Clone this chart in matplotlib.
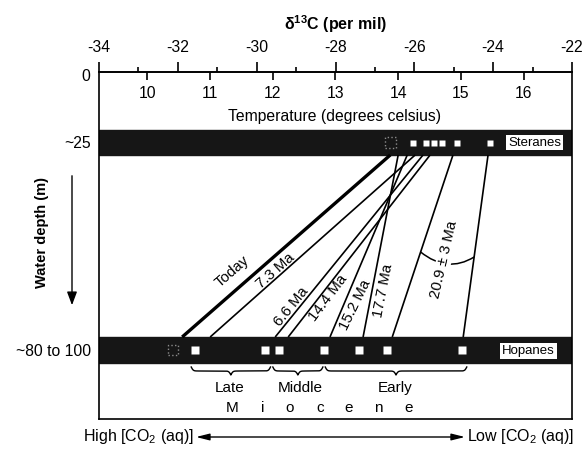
import matplotlib.pyplot as plt
import numpy as np
from matplotlib.path import Path
import matplotlib.patches as mpatches

plt.rcParams['font.family'] = ['Liberation Sans', 'DejaVu Sans']
plt.rcParams['mathtext.fontset'] = 'custom'
plt.rcParams['mathtext.rm'] = 'Liberation Sans'
plt.rcParams['mathtext.bf'] = 'Liberation Sans:bold'
plt.rcParams['axes.unicode_minus'] = False

#============= data (delta 13C, per mil) ==========================#
ages = ['Today', '7.3 Ma', '6.6 Ma', '14.4 Ma', '15.2 Ma', '17.7 Ma', '20.9a', '20.9b']
sterane_end = [-26.61, -25.98, -25.78, -25.60, -26.18, -26.41, -25.02, -24.13]
hopane_end = [-31.89, -31.18, -29.53, -29.20, -28.14, -27.30, -26.56, -24.76]
sterane_pts = [-26.03, -25.70, -25.50, -25.29, -24.91, -24.08]
hopane_pts = [-31.56, -29.79, -29.43, -28.29, -27.40, -26.69, -24.79]
today_pts = [-26.61, -32.12]          # sterane, hopane (dashed squares)
depth_labels = ['0', '~25', '~80 to 100']
temp_ticks = [10, 11, 12, 13, 14, 15, 16]
miocene_parts = ['Late', 'Middle', 'Early']
miocene_edges = [-31.69, -29.62, -28.29, -24.64]

#============= layout =============================================#
ster_band = (58.3, 83.3)
hop_band = (265.3, 291.3)
ster_y = 70.8
hop_y = 278.3


def px(x, y):
    # image pixel -> data coords (layout helper for annotations)
    return (x - 99) / 39.42 - 34, y - 71.7


def d2t(d):
    return 13 + (np.asarray(d) + 28) / 1.5906


def t2d(t):
    return -28 + (np.asarray(t) - 13) * 1.5906


fig = plt.figure(figsize=(5.84, 4.51), dpi=100)
ax = fig.add_axes([99 / 584, 1 - 419 / 451, 473 / 584, 347.3 / 451])
ax.set_xlim(-34, -22)
ax.set_ylim(347.3, 0)

# bands
for b in (ster_band, hop_band):
    ax.axhspan(b[0], b[1], color='#161616', zorder=1)

# lines
for i, a in enumerate(ages):
    lw = 2.4 if a == 'Today' else 1.2
    ax.plot([sterane_end[i], hopane_end[i]], [ster_band[1], hop_band[0]],
            color='k', lw=lw, solid_capstyle='butt', zorder=2)

# squares
ax.plot(sterane_pts, [ster_y] * len(sterane_pts), 's', ms=5.0, mfc='white', mec='none', zorder=3)
ax.plot(hopane_pts, [hop_y] * len(hopane_pts), 's', ms=5.3, mfc='white', mec='none', zorder=3)
ax.scatter(today_pts, [ster_y, hop_y], marker='s', s=60, facecolors='none',
           edgecolors='0.55', linestyles=':', linewidths=1, zorder=3)

# band labels
ax.text(*px(534.5, 142.5), 'Steranes', ha='center', va='center', size=9.5, zorder=4,
        bbox=dict(boxstyle='square,pad=0.15', fc='white', ec='none'))
ax.text(*px(528.5, 351), 'Hopanes', ha='center', va='center', size=9.5, zorder=4,
        bbox=dict(boxstyle='square,pad=0.15', fc='white', ec='none'))

# line labels
labels = [('Today', 232, 272, 41), ('7.3 Ma', 275, 271, 41.5), ('6.6 Ma', 291, 307, 51),
          ('14.4 Ma', 328, 298, 53), ('15.2 Ma', 355, 305, 64), ('17.7 Ma', 383, 291, 79),
          ('20.9 ± 3 Ma', 444, 260, 77)]
for t, x, y, r in labels:
    bb = dict(boxstyle='square,pad=0.05', fc='white', ec='none') if t.startswith('20.9') else None
    ax.text(*px(x, y), t, rotation=r, rotation_mode='anchor', ha='center', va='center',
            size=10.8, zorder=5, bbox=bb)

# arc between the two 20.9 Ma lines
ya, yb = 252 - 71.7, 257 - 71.7
fa = (ya - ster_band[1]) / (hop_band[0] - ster_band[1])
fb = (yb - ster_band[1]) / (hop_band[0] - ster_band[1])
p0 = (sterane_end[6] + fa * (hopane_end[6] - sterane_end[6]), ya)
p2 = (sterane_end[7] + fb * (hopane_end[7] - sterane_end[7]), yb)
p1 = ((p0[0] + p2[0]) / 2, (ya + yb) / 2 + 19)
arc = mpatches.PathPatch(Path([p0, p1, p2], [Path.MOVETO, Path.CURVE3, Path.CURVE3]),
                         fc='none', ec='k', lw=1.1, zorder=4)
ax.add_patch(arc)

# braces under the hopane band
def brace(x0, x1, y0, h):
    xs = np.linspace(x0, x1, 301)
    half = xs[:151]
    beta = 40.0
    yh = 1 / (1 + np.exp(-beta * (half - half[0]))) + 1 / (1 + np.exp(-beta * (half - half[-1])))
    yy = np.concatenate((yh, yh[-2::-1]))
    ax.plot(xs, y0 + (yy - 0.5) * h, color='k', lw=1.0, zorder=3)


for j in range(3):
    brace(miocene_edges[j] + 0.03, miocene_edges[j + 1] - 0.03, 367 - 71.7, 8)
for name, x in zip(miocene_parts, [230, 300, 395]):
    ax.text(*px(x, 388), name, ha='center', va='center', size=11)
for ch, x in zip('Miocene', [232, 263, 290, 320, 349, 378, 409]):
    ax.text(*px(x, 408), ch, ha='center', va='center', size=11)
ax.text(*px(335, 117), 'Temperature (degrees celsius)', ha='center', va='center', size=11.3)

# axes styling
for s in ax.spines.values():
    s.set_linewidth(1.2)
ax.set_xticks(np.arange(-34, -21, 2))
ax.set_xticks(np.arange(-33, -22, 2), minor=True)
ax.tick_params(axis='x', which='both', top=True, bottom=False, labeltop=True,
               labelbottom=False, direction='out', width=1.2, labelsize=11.3)
ax.tick_params(axis='x', which='major', length=7, pad=5)
ax.tick_params(axis='x', which='minor', length=3.6)
ax.xaxis.set_label_position('top')
ax.set_xlabel('δ$^{\\mathbf{13}}$C (per mil)', weight='bold', size=11.5, labelpad=7)

sec = ax.secondary_xaxis('top', functions=(d2t, t2d))
sec.set_xticks(temp_ticks)
sec.tick_params(direction='in', length=6, width=1.2, pad=-21, labelsize=11.3)
sec.spines['top'].set_linewidth(1.2)

ax.set_yticks([3, ster_y, hop_y], depth_labels)
ax.tick_params(axis='y', length=0, pad=6, labelsize=11.3)

# water depth
fig.text(42 / 584, 1 - 232 / 451, 'Water depth (m)', rotation=90, weight='bold',
         ha='center', va='center', size=10.5)
ax.annotate('', xy=(72, 451 - 308), xytext=(72, 451 - 173), xycoords='figure pixels',
            arrowprops=dict(arrowstyle='-|>,head_length=0.8,head_width=0.3', lw=1, color='k'))

# CO2 arrow
ya2 = 437 - 71.7
ax.annotate('', xy=(px(465, 0)[0], ya2), xytext=(px(196, 0)[0], ya2), annotation_clip=False,
            arrowprops=dict(arrowstyle='<|-|>,head_length=0.8,head_width=0.2', lw=1, color='k',
                            shrinkA=0, shrinkB=0))
ax.text(px(194, 0)[0], ya2, 'High [CO$_2$ (aq)]', ha='right', va='center', size=11.5, clip_on=False)
ax.text(px(467, 0)[0], ya2, 'Low [CO$_2$ (aq)]', ha='left', va='center', size=11.5, clip_on=False)

fig.savefig('out.png', dpi=100)
